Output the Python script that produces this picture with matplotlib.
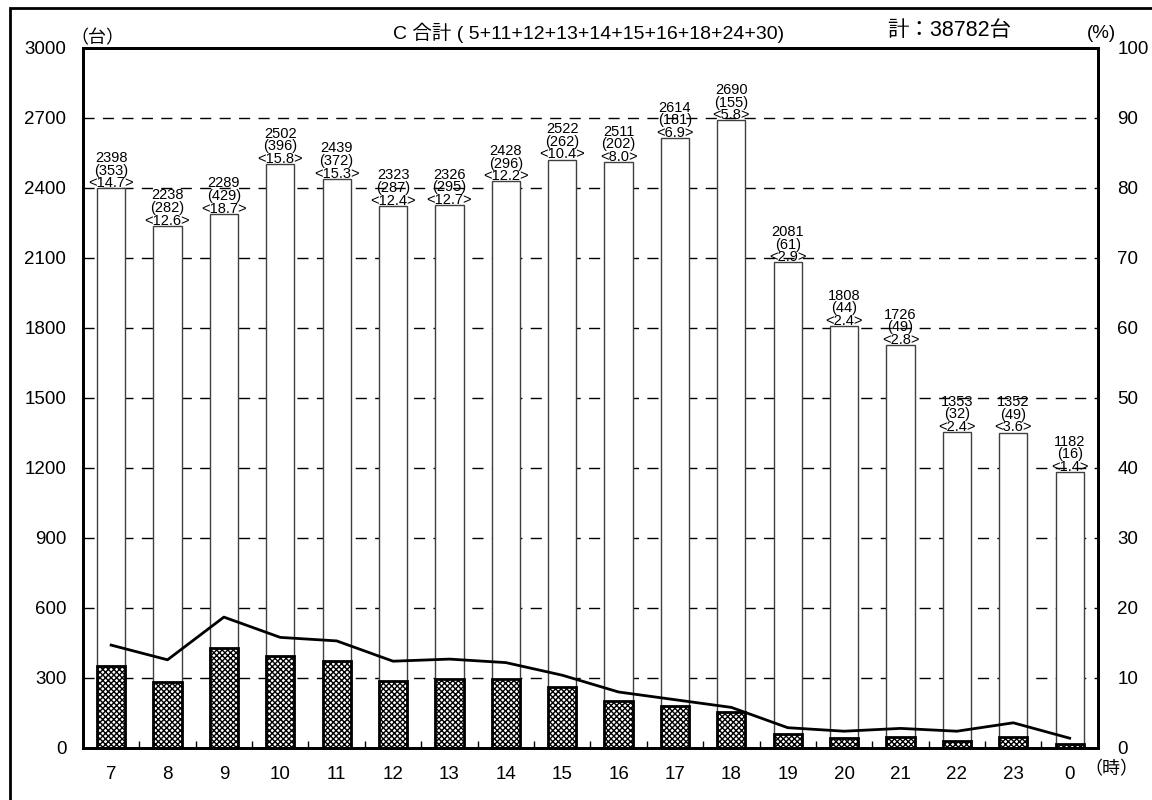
import numpy as np
import matplotlib.pyplot as plt
from matplotlib.patches import Rectangle

plt.rcParams['font.family'] = ['Liberation Sans', 'Noto Sans CJK JP', 'DejaVu Sans']
plt.rcParams['hatch.linewidth'] = 1.0

hours = ['7', '8', '9', '10', '11', '12', '13', '14', '15', '16', '17', '18',
         '19', '20', '21', '22', '23', '0']
total = [2398, 2238, 2289, 2502, 2439, 2323, 2326, 2428, 2522, 2511, 2614, 2690,
         2081, 1808, 1726, 1353, 1352, 1182]
large = [353, 282, 429, 396, 372, 287, 295, 296, 262, 202, 181, 155,
         61, 44, 49, 32, 49, 16]
pct = [14.7, 12.6, 18.7, 15.8, 15.3, 12.4, 12.7, 12.2, 10.4, 8.0, 6.9, 5.8,
       2.9, 2.4, 2.8, 2.4, 3.6, 1.4]

x = np.arange(len(hours))

fig = plt.figure(figsize=(11.52, 8), dpi=100)
ax = fig.add_axes([0.072, 0.065, 0.881, 0.875])

# 破線グリッド
for v in range(300, 3000, 300):
    ax.axhline(v, color='black', lw=1, dashes=(8, 6), zorder=0)

ax.bar(x, total, width=0.5, facecolor='white', edgecolor='#404040', lw=1, zorder=2)
ax.bar(x, large, width=0.5, facecolor='white', edgecolor='black', lw=2,
       hatch='xxxxxx', zorder=3)

# 台数 (大型車) <大型車混入率>
for i in range(len(x)):
    ax.text(x[i], total[i] - 8, '%d\n(%d)\n<%.1f>' % (total[i], large[i], pct[i]),
            ha='center', va='bottom', fontsize=10.5, linespacing=0.88, zorder=4)

ax.set_xlim(-0.5, len(x) - 0.5)
ax.set_ylim(0, 3000)
ax.set_yticks(range(0, 3001, 300))
ax.set_xticks(x)
ax.set_xticklabels(hours)
ax.set_xticks(np.arange(0.5, len(x) - 1, 1), minor=True)
ax.tick_params(axis='x', which='major', length=0, pad=13, labelsize=13.5)
ax.tick_params(axis='x', which='minor', direction='in', length=5, width=1)
ax.tick_params(axis='y', length=0, pad=12, labelsize=13.5)
for s in ax.spines.values():
    s.set_linewidth(2)

ax2 = ax.twinx()
ax2.plot(x, pct, color='black', lw=2, zorder=5)
ax2.set_ylim(0, 100)
ax2.set_yticks(range(0, 101, 10))
ax2.tick_params(axis='y', length=0, pad=14, labelsize=13.5)
for s in ax2.spines.values():
    s.set_linewidth(2)

fig.text(0.511, 0.959, 'C 合計 ( 5+11+12+13+14+15+16+18+24+30)', ha='center', va='center',
         fontsize=14)
fig.text(0.824, 0.962, '計：38782台', ha='center', va='center', fontsize=15.5)
fig.text(0.085, 0.952, '（台）', ha='center', va='center', fontsize=13)
fig.text(0.956, 0.958, '(%)', ha='center', va='center', fontsize=13.5)
fig.text(0.965, 0.038, '（時）', ha='center', va='center', fontsize=13)

# 外枠
fig.patches.append(Rectangle((10 / 1152, -0.02), 1.02, 1 - 8 / 800 + 0.02,
                             transform=fig.transFigure, fill=False, lw=2,
                             edgecolor='black'))

fig.savefig('out.png', dpi=100)
